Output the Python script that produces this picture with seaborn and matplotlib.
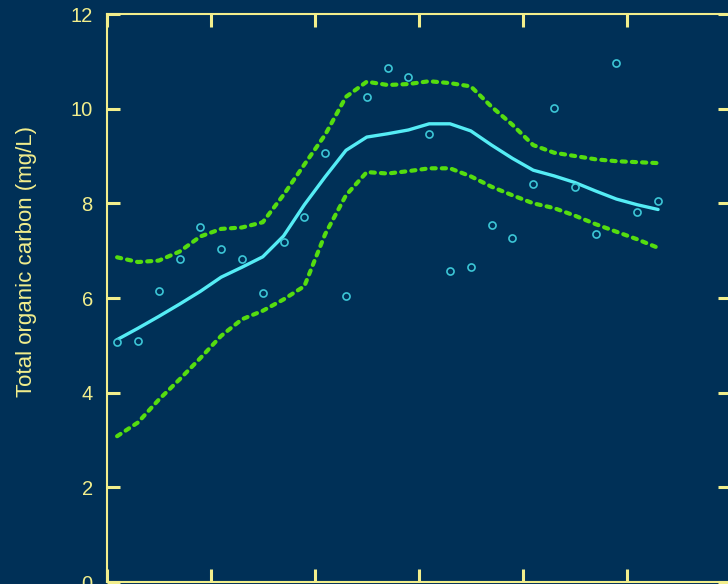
import numpy as np
import pandas as pd
import matplotlib
matplotlib.use("Agg")
import matplotlib.pyplot as plt
import seaborn as sns

# Annual mean total organic carbon, plotted at mid-year
years = list(range(1990, 2017))
toc_obs = [5.06, 5.10, 6.15, 6.82, 7.49, 7.04, 6.82, 6.11, 7.18, 7.72,
           9.07, 6.05, 10.24, 10.86, 10.66, 9.47, 6.56, 6.66, 7.54, 7.27,
           8.40, 10.01, 8.35, 7.35, 10.97, 7.82, 8.04]

# Smoothed trend and its confidence band
toc_fit = [5.12, 5.36, 5.61, 5.87, 6.14, 6.44, 6.65, 6.87, 7.31, 7.97,
           8.56, 9.12, 9.40, 9.47, 9.55, 9.68, 9.68, 9.53, 9.23, 8.95,
           8.70, 8.58, 8.44, 8.26, 8.09, 7.97, 7.87]
toc_upper = [6.86, 6.76, 6.79, 6.98, 7.30, 7.46, 7.49, 7.60, 8.18, 8.82,
             9.45, 10.25, 10.57, 10.50, 10.52, 10.58, 10.54, 10.47, 10.04, 9.66,
             9.23, 9.07, 9.00, 8.93, 8.89, 8.87, 8.85]
toc_lower = [3.08, 3.37, 3.85, 4.28, 4.73, 5.20, 5.55, 5.73, 5.97, 6.25,
             7.35, 8.17, 8.66, 8.63, 8.68, 8.74, 8.74, 8.57, 8.35, 8.17,
             8.00, 7.90, 7.74, 7.56, 7.40, 7.24, 7.06]

df = pd.DataFrame({
    "year": np.array(years) + 0.5,
    "obs": toc_obs,
    "fit": toc_fit,
    "upper": toc_upper,
    "lower": toc_lower,
})

BG = "#003057"
FRAME = "#F2EE8C"
FIT = "#55ECF5"
PT = "#3CC6D6"
BAND = "#55DD0F"

sns.set_style("ticks", {"axes.facecolor": BG, "figure.facecolor": BG})
plt.rcParams["font.family"] = ["Liberation Sans", "DejaVu Sans"]

fig = plt.figure(figsize=(7.28, 5.84), dpi=100)
ax = fig.add_axes([106.7 / 728, 2 / 584, 624.2 / 728, 568 / 584])
ax.set_facecolor(BG)

band_style = dict(color=BAND, lw=3.0, linestyle=(0, (1.0, 1.45)),
                  dash_capstyle="round")
sns.lineplot(data=df, x="year", y="upper", ax=ax, **band_style)
sns.lineplot(data=df, x="year", y="lower", ax=ax, **band_style)
sns.lineplot(data=df, x="year", y="fit", ax=ax, color=FIT, lw=2.4)
sns.scatterplot(data=df, x="year", y="obs", ax=ax, s=26, marker="o",
                facecolor=BG, edgecolor=PT, linewidth=1.2, zorder=5)

ax.set_xlim(1990, 2020)
ax.set_ylim(0, 12)
ax.set_xticks([1990, 1995, 2000, 2005, 2010, 2015, 2020])
ax.set_yticks([0, 2, 4, 6, 8, 10, 12])

for side in ["left", "right", "top", "bottom"]:
    ax.spines[side].set_visible(True)
    ax.spines[side].set_color(FRAME)
    ax.spines[side].set_linewidth(1.5)

ax.tick_params(axis="both", which="major", direction="in", length=9.5,
               width=2.2, color=FRAME, labelcolor=FRAME, labelsize=14.5,
               pad=10, top=True, right=True)

ax.set_xlabel("")
ax.set_ylabel("Total organic carbon (mg/L)", color=FRAME, fontsize=16)
ax.yaxis.set_label_coords(-0.111, 0.565)

fig.savefig("out.png", dpi=100, facecolor=BG)
